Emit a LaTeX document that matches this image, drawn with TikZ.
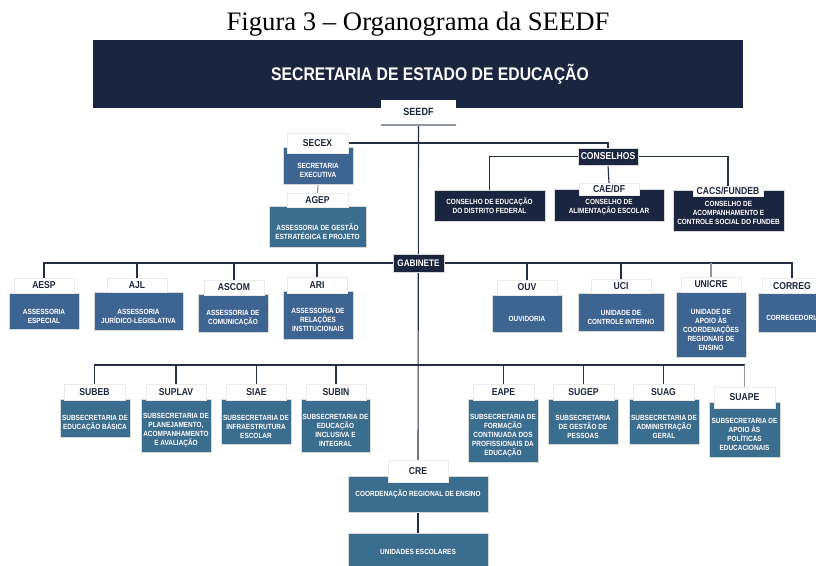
\documentclass[tikz,border=0pt]{standalone}
\usepackage{fontspec}
\setmainfont{Liberation Serif}
\newfontfamily\estreita[FakeStretch=0.86]{Liberation Sans}
\usetikzlibrary{positioning}
\definecolor{marinho}{RGB}{26,37,64}
\definecolor{azul}{RGB}{62,101,146}
\definecolor{petroleo}{RGB}{59,109,142}
\definecolor{linha}{RGB}{35,45,70}
\definecolor{cinza}{RGB}{145,152,163}
\definecolor{tinta}{RGB}{30,38,60}
\pgfdeclarelayer{fundo}
\pgfsetlayers{fundo,main}
\tikzset{
  aba/.style={fill=white, draw=black!8, text=tinta, inner sep=0pt,
    font=\estreita\bfseries\fontsize{10}{11}\selectfont, minimum width=60, minimum height=15},
  corpo/.style={draw=black!15, line width=.8pt, text=white, align=center, inner sep=1pt,
    font=\estreita\bfseries\fontsize{7.5}{9}\selectfont, minimum width=70},
  rotulo/.style={text=white, align=center, inner sep=0pt, yshift=-5pt,
    font=\estreita\bfseries\fontsize{7.5}{9}\selectfont},
  texto/.style={label={[rotulo]center:{#1}}},
  azul/.style={corpo, fill=azul},
  verde/.style={corpo, fill=petroleo},
  escuro/.style={corpo, fill=marinho},
  ligacao/.style={draw=linha, line width=1.1pt},
  ligacaoclara/.style={draw=cinza, line width=1.1pt}
}
\begin{document}
\begin{tikzpicture}[x=1pt, y=-1pt]
  \useasboundingbox (0,0) rectangle (816,565);
  \clip (0,0) rectangle (816,565);

  \node[font=\fontsize{26.7}{30}\selectfont, inner sep=0pt] (titulo) at (418,24) {Figura 3 – Organograma da SEEDF};
  \node[fill=marinho, minimum width=650, minimum height=68, inner sep=0pt,
    label={[text=white, xshift=12pt, font=\estreita\bfseries\fontsize{18.3}{20}\selectfont]center:SECRETARIA DE ESTADO DE EDUCAÇÃO}] (sed) at (418,74) {};
  \node[aba, draw=none, minimum width=75, minimum height=25, font=\estreita\bfseries\fontsize{10.5}{12}\selectfont] (seedf) at (418.5,112) {SEEDF};
  \draw[cinza, line width=1.6pt] (seedf.south west) -- (seedf.south east);

  % secretaria executiva
  \node[verde, minimum width=97, minimum height=41, texto={ASSESSORIA DE GESTÃO\\ESTRATÉGICA E PROJETO}] (agep-d) at (317.5,226.5) {};
  \node[aba, minimum width=61, minimum height=14] (agep) at (317.5,200) {AGEP};
  \node[azul, minimum height=37, texto={SECRETARIA\\EXECUTIVA}] (secex-d) at (318,165.5) {};
  \node[aba, minimum width=61, minimum height=20] (secex) at (317.5,143) {SECEX};

  % conselhos
  \node[escuro, font=\estreita\bfseries\fontsize{10}{11}\selectfont, inner sep=0pt, minimum width=60, minimum height=17] (conselhos) at (608,156.5) {CONSELHOS};
  \node[escuro, minimum width=111, minimum height=31] (cedf) at (489.5,205.5) {CONSELHO DE EDUCAÇÃO\\DO DISTRITO FEDERAL};
  \node[escuro, minimum width=110, minimum height=32,
    label={[rotulo, yshift=2.5pt]center:{CONSELHO DE\\ALIMENTAÇÃO ESCOLAR}}] (caedf-d) at (609,205) {};
  \node[aba, minimum height=12] (caedf) at (609,189) {CAE/DF};
  \node[escuro, minimum width=111, minimum height=41,
    label={[rotulo, yshift=3pt]center:{CONSELHO DE\\ACOMPANHAMENTO E\\CONTROLE SOCIAL DO FUNDEB}}] (cacs-d) at (728.5,210.5) {};
  \node[aba, minimum width=70, minimum height=10] (cacs) at (728,191) {CACS/FUNDEB};

  % gabinete
  \node[escuro, font=\estreita\bfseries\fontsize{9.5}{11}\selectfont, inner sep=0pt, minimum width=51, minimum height=18] (gabinete) at (418.5,263) {GABINETE};
  \node[azul, minimum height=36, texto={ASSESSORIA\\ESPECIAL}] (aesp-d) at (44,311) {};
  \node[aba] (aesp) at (44,285.5) {AESP};
  \node[azul, minimum width=89, minimum height=38, texto={ASSESSORIA\\JURÍDICO-LEGISLATIVA}] (ajl-d) at (138.5,311) {};
  \node[aba, minimum height=14] (ajl) at (137,285) {AJL};
  \node[azul, minimum height=38, texto={ASSESSORIA DE\\COMUNICAÇÃO}] (ascom-d) at (233,313) {};
  \node[aba] (ascom) at (234,287.5) {ASCOM};
  \node[azul, minimum height=48, texto={ASSESSORIA DE\\RELAÇÕES\\INSTITUCIONAIS}] (ari-d) at (318,315) {};
  \node[aba, minimum height=16] (ari) at (317,285) {ARI};
  \node[azul, minimum height=37, texto={OUVIDORIA}] (ouv-d) at (527,313.5) {};
  \node[aba] (ouv) at (527,287.5) {OUV};
  \node[azul, minimum width=86, minimum height=38, texto={UNIDADE DE\\CONTROLE INTERNO}] (uci-d) at (621,312) {};
  \node[aba, minimum height=14] (uci) at (621,286) {UCI};
  \node[azul, minimum height=65, texto={UNIDADE DE\\APOIO ÀS\\COORDENAÇÕES\\REGIONAIS DE\\ENSINO}] (unicre-d) at (711,324.5) {};
  \node[aba] (unicre) at (711,284.5) {UNICRE};
  \node[azul, minimum height=39, texto={CORREGEDORIA}] (correg-d) at (793,312.5) {};
  \node[aba] (correg) at (792,286) {CORREG};

  % subsecretarias
  \coordinate (subsec) at (418,365);
  \node[verde, minimum height=38, texto={SUBSECRETARIA DE\\EDUCAÇÃO BÁSICA}] (subeb-d) at (95,418) {};
  \node[aba, minimum width=61, minimum height=16] (subeb) at (94.5,392) {SUBEB};
  \node[verde, minimum height=53, texto={SUBSECRETARIA DE\\PLANEJAMENTO,\\ACOMPANHAMENTO\\E AVALIAÇÃO}] (suplav-d) at (176,425.5) {};
  \node[aba, minimum height=16] (suplav) at (176,392) {SUPLAV};
  \node[verde, minimum height=45, texto={SUBSECRETARIA DE\\INFRAESTRUTURA\\ESCOLAR}] (siae-d) at (256,421.5) {};
  \node[aba, minimum height=16] (siae) at (256.5,392) {SIAE};
  \node[verde, minimum width=69, minimum height=53, texto={SUBSECRETARIA DE\\EDUCAÇÃO\\INCLUSIVA E\\INTEGRAL}] (subin-d) at (335.5,425.5) {};
  \node[aba, minimum height=16] (subin) at (336,392) {SUBIN};
  \node[verde, minimum height=63, texto={SUBSECRETARIA DE\\FORMAÇÃO\\CONTINUADA DOS\\PROFISSIONAIS DA\\EDUCAÇÃO}] (eape-d) at (503,430.5) {};
  \node[aba, minimum width=61, minimum height=16] (eape) at (503.5,392) {EAPE};
  \node[verde, minimum height=45, texto={SUBSECRETARIA\\DE GESTÃO DE\\PESSOAS}] (sugep-d) at (583,421.5) {};
  \node[aba, minimum width=61, minimum height=16] (sugep) at (583.5,392) {SUGEP};
  \node[verde, minimum height=45, texto={SUBSECRETARIA DE\\ADMINISTRAÇÃO\\GERAL}] (suag-d) at (664,421.5) {};
  \node[aba, minimum width=61, minimum height=16] (suag) at (663.5,392) {SUAG};
  \node[verde, minimum width=71, minimum height=55, texto={SUBSECRETARIA DE\\APOIO ÀS\\POLÍTICAS\\EDUCACIONAIS}] (suape-d) at (744.5,429.5) {};
  \node[aba, minimum width=61, minimum height=21] (suape) at (744.5,397.5) {SUAPE};

  % regional
  \node[verde, minimum width=140, minimum height=36] (cre-d) at (418,494) {COORDENAÇÃO REGIONAL DE ENSINO};
  \node[aba, minimum height=22] (cre) at (418,471) {CRE};
  \node[verde, minimum width=140, minimum height=38] (escolas) at (418,552) {UNIDADES ESCOLARES};

  \begin{pgfonlayer}{fundo}
    \draw[ligacao] (seedf.south) -- (cre.north);
    \draw[ligacao] (secex.east) -| (conselhos.north);
    \draw[ligacao] (cedf.north) |- (conselhos.west);
    \draw[ligacao] (conselhos.east) -| (cacs.north);
    \draw[ligacao] (conselhos.south) -- (caedf.north);
    \draw[ligacaoclara] (secex-d.south) -- (agep.north);
    \draw[ligacao] (aesp.north) |- (gabinete.west);
    \draw[ligacao] (gabinete.east) -| (correg.north);
    \draw[ligacao] (ajl.north) -- (ajl.north |- gabinete.center);
    \draw[ligacao] (ascom.north) -- (ascom.north |- gabinete.center);
    \draw[ligacao] (ari.north) -- (ari.north |- gabinete.center);
    \draw[ligacao] (ouv.north) -- (ouv.north |- gabinete.center);
    \draw[ligacao] (uci.north) -- (uci.north |- gabinete.center);
    \draw[ligacaoclara] (unicre.north) -- (unicre.north |- gabinete.center);
    \draw[ligacao] (subeb.north) |- (subsec) -| (suape.north |- subsec);
    \draw[ligacao] (suplav.north) -- (suplav.north |- subsec);
    \draw[ligacao] (siae.north) -- (siae.north |- subsec);
    \draw[ligacao] (subin.north) -- (subin.north |- subsec);
    \draw[ligacao] (eape.north) -- (eape.north |- subsec);
    \draw[ligacao] (sugep.north) -- (sugep.north |- subsec);
    \draw[ligacao] (suag.north) -- (suag.north |- subsec);
    \draw[ligacaoclara] (suape.north) -- (suape.north |- subsec);
    \draw[ligacao] (cre-d.south) -- (escolas.north);
  \end{pgfonlayer}
\end{tikzpicture}
\end{document}
